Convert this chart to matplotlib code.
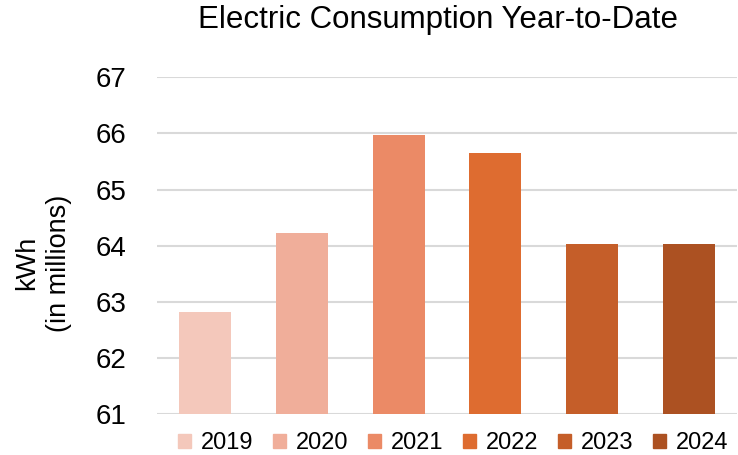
import matplotlib
matplotlib.use("Agg")
import matplotlib.pyplot as plt
from matplotlib.patches import Patch

#chart data
years = ["2019", "2020", "2021", "2022", "2023", "2024"]
kwh = [62.82, 64.23, 65.97, 65.65, 64.03, 64.03]
colors = ["#F4C8BB", "#F0AE9A", "#EB8A66", "#DE6C30", "#C55E29", "#AC5122"]

plt.rcParams['font.family'] = ['Liberation Sans', 'DejaVu Sans']

fig = plt.figure(figsize=(7.38, 4.55), dpi=100)
ax = fig.add_axes([157/738, 1-414.3/455, 580/738, (414.3-77.3)/455])

x = range(len(years))
ax.bar(x, [v - 61 for v in kwh], bottom=61, width=0.54, color=colors, zorder=3)

ax.set_ylim(61, 67)
ax.set_xlim(-0.5, 5.5)
ax.set_yticks(range(61, 68))
ax.set_xticks([])
ax.tick_params(axis='y', length=0, labelsize=20, pad=22)
ax.grid(axis='y', color='#D9D9D9', linewidth=1.5, zorder=0)
for s in ax.spines.values():
    s.set_visible(False)

fig.text(438/738, 1-20/455, "Electric Consumption Year-to-Date", ha='center', va='center', fontsize=22.5)
fig.text(43/738, 1-263/455, "kWh\n(in millions)", ha='center', va='center', rotation=90,
         fontsize=19.5, linespacing=1.3)

handles = [Patch(color=c, label=y) for c, y in zip(colors, years)]
fig.legend(handles=handles, loc='center', bbox_to_anchor=(453/738, 1-443/455), ncol=6,
           frameon=False, fontsize=17, handlelength=0.55, handleheight=0.55,
           handletextpad=0.4, columnspacing=0.85, borderpad=0)

fig.savefig("out.png", dpi=100)
